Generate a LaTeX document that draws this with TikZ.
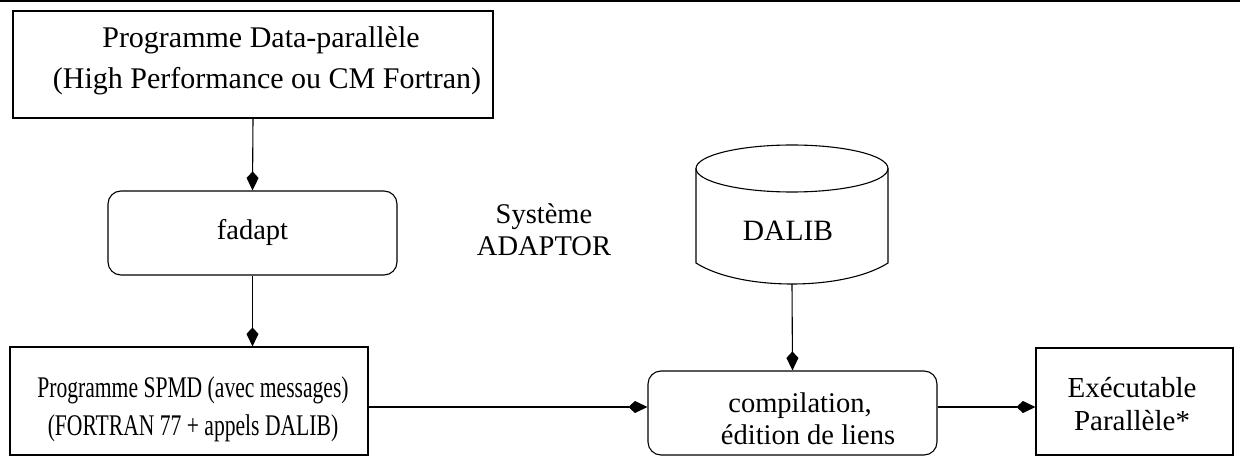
\documentclass[tikz,border=0pt]{standalone}
\usepackage{fontspec}
\setmainfont{Liberation Serif}
\usetikzlibrary{arrows.meta}
\begin{document}
\begin{tikzpicture}[x=1pt,y=-1pt,
  every node/.style={inner sep=0pt, align=center},
  box/.style={draw, line width=1.1pt},
  rbox/.style={draw, line width=1.1pt, rounded corners=13pt},
  conn/.style={line width=1.1pt, -{Kite[length=19pt,width=12pt,inset=6.5pt]}},
  shape line/.style={line width=1.1pt}]
\useasboundingbox (0,0) rectangle (1240,457);
\fill (0,0) rectangle (1240,2.5);
% boxes
\node[box, minimum width=480pt, minimum height=107pt] (src) at (253,64.5) {};
\node[font=\fontsize{30}{41}\selectfont] (srctext) at (261,60.5)
  {Programme Data-parallèle\\\hspace*{12pt}(High Performance ou CM Fortran)};
\node[rbox, minimum width=289pt, minimum height=84pt, font=\fontsize{28.5}{41}\selectfont] (fadapt) at (252.5,233) {fadapt};
\node[box, minimum width=358pt, minimum height=108pt] (spmd) at (189,401) {};
\node[font=\fontsize{30}{38}\selectfont] (spmdtext) at (193,409)
  {\scalebox{0.72}[1]{Programme SPMD (avec messages)}\\\scalebox{0.72}[1]{(FORTRAN 77 + appels DALIB)}};
\node[rbox, minimum width=289pt, minimum height=84pt] (comp) at (792.5,413) {};
\node[font=\fontsize{28.5}{32}\selectfont] (comptext) at (800,418.5)
  {compilation,\\\hspace*{16pt}édition de liens};
\node[box, minimum width=197pt, minimum height=107pt] (exe) at (1134.5,401.5) {};
\node[font=\fontsize{29}{33}\selectfont] (exetext) at (1132,404)
  {Exécutable\\Parallèle*};
\node[font=\fontsize{28.5}{32}\selectfont] (sys) at (544,229.5) {Système\\ADAPTOR};
% cylinder
\draw[shape line] (792,168.5) ellipse [x radius=96, y radius=23.5];
\draw[shape line] (696,168.5) -- (696,263) .. controls (740,291) and (844,291) .. (888,263) -- (888,168.5);
\node[font=\fontsize{29.5}{36}\selectfont] (dalib) at (788,230.5) {DALIB};
\coordinate (dalibbot) at (792,284);
% connectors
\draw[conn] (src.south) -- (fadapt.north);
\draw[conn] (fadapt.south) -- (spmd.north -| fadapt.south);
\draw[conn] (spmd.east |- 0,407) -- (comp.west |- 0,407);
\draw[conn] (dalibbot) -- (comp.north);
\draw[conn] (comp.east |- 0,407) -- (exe.west |- 0,407);
\end{tikzpicture}
\end{document}
